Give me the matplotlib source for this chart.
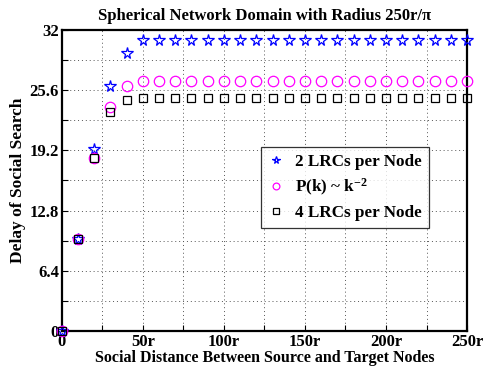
import matplotlib
matplotlib.use("Agg")
import matplotlib.pyplot as plt
import numpy as np

# Social distance (in units of r) and average search delay
distance = [0, 10, 20, 30, 40, 50, 60, 70, 80, 90, 100, 110, 120, 130, 140,
            150, 160, 170, 180, 190, 200, 210, 220, 230, 240, 250]
delay_2lrc = [0, 9.8, 19.3, 26.0, 29.6] + [30.9] * 21
delay_powerlaw = [0, 9.8, 18.4, 23.85, 26.0] + [26.6] * 21
delay_4lrc = [0, 9.8, 18.4, 23.25, 24.6] + [24.8] * 21

xticks = [0, 25, 50, 75, 100, 125, 150, 175, 200, 225, 250]
xticklabels = ['0', '', '50r', '', '100r', '', '150r', '', '200r', '', '250r']
yticks = [0, 3.2, 6.4, 9.6, 12.8, 16.0, 19.2, 22.4, 25.6, 28.8, 32]
yticklabels = ['0', '', '6.4', '', '12.8', '', '19.2', '', '25.6', '', '32']

plt.rcParams.update({
    'font.family': 'Liberation Serif',
    'font.weight': 'bold',
    'mathtext.fontset': 'custom',
    'mathtext.rm': 'Liberation Serif:bold',
    'mathtext.it': 'Liberation Serif:italic:bold',
    'mathtext.bf': 'Liberation Serif:bold',
})

fig = plt.figure(figsize=(4.83, 3.74), dpi=100)
ax = fig.add_axes([0.128, 0.115, 0.839, 0.805])

ax.plot(distance, delay_2lrc, linestyle='none', marker='*', markersize=8.5,
        markerfacecolor='none', markeredgecolor='blue', markeredgewidth=0.9,
        label='2 LRCs per Node', clip_on=False, zorder=3)
ax.plot(distance, delay_powerlaw, linestyle='none', marker='o', markersize=7.5,
        markerfacecolor='none', markeredgecolor='magenta', markeredgewidth=0.9,
        label=r'P(k) ~ k$^{\mathbf{-2}}$', clip_on=False, zorder=3)
ax.plot(distance, delay_4lrc, linestyle='none', marker='s', markersize=6,
        markerfacecolor='none', markeredgecolor='black', markeredgewidth=0.9,
        label='4 LRCs per Node', clip_on=False, zorder=3)

ax.set_xlim(0, 250)
ax.set_ylim(0, 32)
ax.set_xticks(xticks)
ax.set_xticklabels(xticklabels)
ax.set_yticks(yticks)
ax.set_yticklabels(yticklabels)
ax.tick_params(direction='in', length=4, width=0.8, labelsize=12, pad=2)
for lbl in ax.get_xticklabels() + ax.get_yticklabels():
    lbl.set_fontweight('bold')
for sp in ax.spines.values():
    sp.set_linewidth(1.6)
ax.grid(True, linestyle=(0, (1, 3)), color='#555555', linewidth=0.7)

ax.set_title('Spherical Network Domain with Radius 250r/\u03c0',
             fontsize=12, fontweight='bold', pad=7)
ax.set_xlabel('Social Distance Between Source and Target Nodes',
              fontsize=11.5, fontweight='bold', labelpad=0)
ax.set_ylabel('Delay of Social Search', fontsize=12.5, fontweight='bold',
              labelpad=3)

leg = ax.legend(loc='upper left', bbox_to_anchor=(0.47, 0.64), fontsize=12.3,
                frameon=True, fancybox=False, handlelength=1.0,
                handletextpad=0.6, borderpad=0.4, labelspacing=0.42,
                markerscale=0.65)
leg.get_frame().set_edgecolor('black')
leg.get_frame().set_linewidth(0.9)
for t in leg.get_texts():
    t.set_fontweight('bold')

fig.savefig('out.png', dpi=100)
